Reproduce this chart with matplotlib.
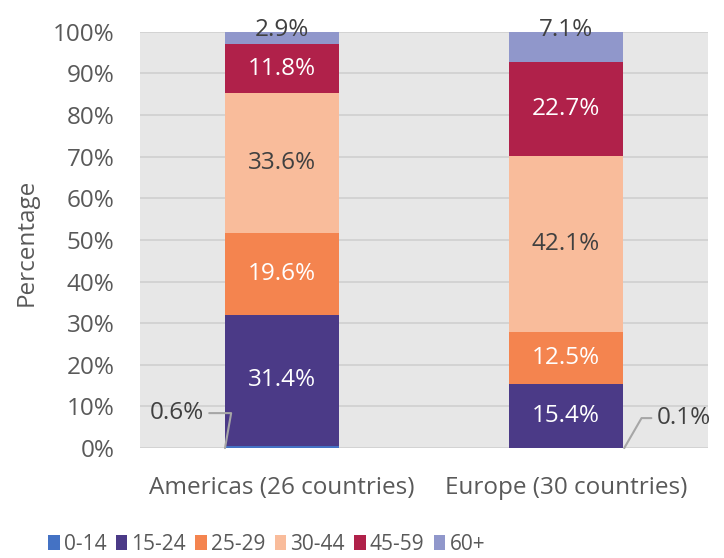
import matplotlib.pyplot as plt
import numpy as np

# Leeftijdsgroepen en percentages per regio.
regios = ["Americas (26 countries)", "Europe (30 countries)"]
groepen = ["0-14", "15-24", "25-29", "30-44", "45-59", "60+"]
americas = [0.6, 31.4, 19.6, 33.6, 11.8, 2.9]
europe = [0.1, 15.4, 12.5, 42.1, 22.7, 7.1]
kleuren = ["#4472C4", "#4B3A87", "#F4844F", "#F9BC9B", "#B0214A", "#9097CB"]
tekstkleur = "#595959"
fs = 17.5

plt.rcParams['font.family'] = ['Open Sans', 'DejaVu Sans']

fig = plt.figure(figsize=(7.24, 5.58), dpi=100)
ax = fig.add_axes([0.193, 0.197, 0.785, 0.746])
ax.set_facecolor("#E7E7E7")

waarden = np.array([americas, europe])
x = np.arange(len(regios))
onder = np.zeros(len(regios))
balken = []
for i, groep in enumerate(groepen):
    b = ax.bar(x, waarden[:, i], 0.4, bottom=onder, color=kleuren[i],
               label=groep, zorder=2)
    balken.append(b)
    for j in range(len(regios)):
        v = waarden[j, i]
        midden = onder[j] + v / 2
        if i in (1, 2, 4):
            ax.text(x[j], midden, f"{v}%", ha="center", va="center",
                    color="white", fontsize=fs, zorder=3)
        elif i == 3:
            ax.text(x[j], midden, f"{v}%", ha="center", va="center",
                    color="#404040", fontsize=fs, zorder=3)
    onder = onder + waarden[:, i]

# Labels voor de kleine segmenten.
for j in range(len(regios)):
    ax.text(x[j], 100.5, f"{waarden[j, 5]}%", ha="center", va="center",
            color="#404040", fontsize=fs, zorder=3)

ax.annotate(f"{americas[0]}%", xy=(-0.2, 0), xytext=(-0.275, 8.4),
            ha="right", va="center", color="#404040", fontsize=fs,
            arrowprops=dict(arrowstyle="-", color="#A6A6A6", lw=1.5,
                            connectionstyle="angle,angleA=0,angleB=80,rad=0",
                            shrinkA=2, shrinkB=0))
ax.annotate(f"{europe[0]}%", xy=(1.205, 0), xytext=(1.32, 7.2),
            ha="left", va="center", color="#404040", fontsize=fs,
            arrowprops=dict(arrowstyle="-", color="#A6A6A6", lw=1.5,
                            connectionstyle="angle,angleA=180,angleB=60,rad=0",
                            shrinkA=2, shrinkB=0))

ax.set_xlim(-0.5, 1.5)
ax.set_ylim(0, 100)
ax.set_yticks(np.arange(0, 101, 10))
ax.set_yticklabels([f"{t}%" for t in range(0, 101, 10)])
ax.set_xticks(x)
ax.set_xticklabels(regios)
ax.tick_params(length=0, labelsize=fs, colors=tekstkleur)
ax.tick_params(axis="y", pad=18)
ax.tick_params(axis="x", pad=20)
ax.grid(axis="y", color="#D0D0D0", lw=1.2, zorder=1)
for s in ax.spines.values():
    s.set_visible(False)
ax.set_ylabel("Percentage", fontsize=fs, color=tekstkleur)
ax.yaxis.set_label_coords(-0.178, 0.495)

fig.legend(handles=balken, labels=groepen, loc="center left", ncol=6,
           frameon=False, labelcolor=tekstkleur,
           prop={'family': ['Liberation Sans Narrow', 'Open Sans'], 'size': 15},
           bbox_to_anchor=(0.052, 0.025), handlelength=0.55, handleheight=0.75,
           handletextpad=0.2, columnspacing=0.45, borderpad=0)

plt.savefig("out.png", dpi=100)
